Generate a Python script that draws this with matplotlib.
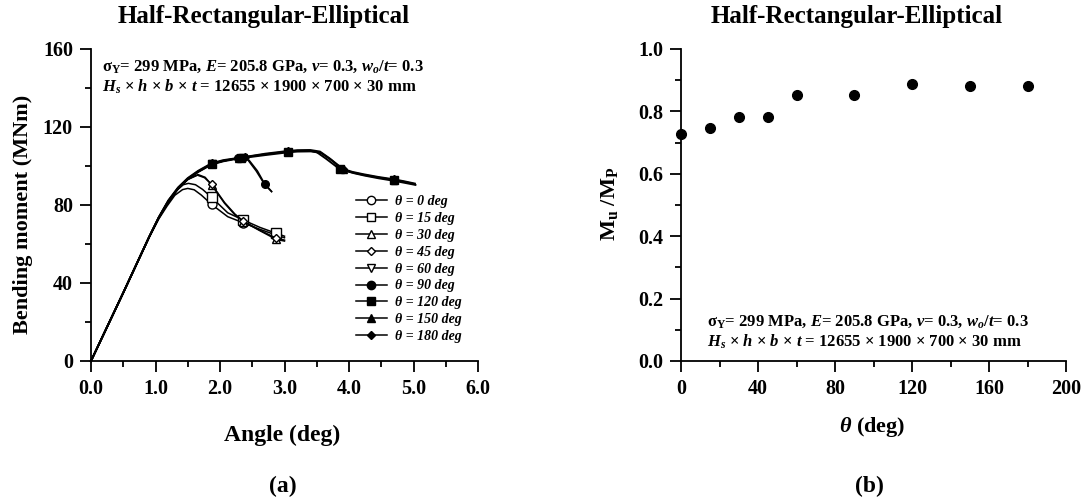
import matplotlib
matplotlib.use("Agg")
import matplotlib.pyplot as plt
from matplotlib.ticker import MultipleLocator
from matplotlib.lines import Line2D

plt.rcParams['font.family'] = ['Liberation Serif', 'DejaVu Serif']
plt.rcParams['font.weight'] = 'bold'
plt.rcParams['mathtext.fontset'] = 'custom'
plt.rcParams['mathtext.rm'] = 'Liberation Serif:bold'
plt.rcParams['mathtext.bf'] = 'Liberation Serif:bold'
plt.rcParams['mathtext.it'] = 'Liberation Serif:italic:bold'
plt.rcParams['mathtext.bfit'] = 'Liberation Serif:italic:bold'

# ---------------- data (a): bending moment vs angle ----------------
x_t0 = [0, 0.5, 0.9, 1.05, 1.18, 1.30, 1.42, 1.50, 1.60, 1.71, 1.87, 2.12, 2.36, 2.62, 2.87, 3.0]
y_t0 = [0, 35, 63.3, 72.8, 79.5, 85.0, 87.9, 88.5, 87.8, 85.1, 80.3, 74, 70.9, 67.5, 64.6, 63.2]
m_t0 = [10, 12, 14]

x_t15 = [0, 0.5, 0.9, 1.05, 1.19, 1.32, 1.43, 1.51, 1.62, 1.73, 1.87, 2.12, 2.36, 2.62, 2.87, 3.0]
y_t15 = [0, 35, 63.4, 73.2, 80.8, 87.2, 90.4, 91.1, 90.4, 88, 83.9, 76, 72.3, 68.5, 65.5, 64]
m_t15 = [10, 12, 14]

x_t30 = [0, 0.5, 0.9, 1.05, 1.2, 1.35, 1.50, 1.66, 1.77, 1.87, 2.07, 2.23, 2.36, 2.62, 2.87, 3.0]
y_t30 = [0, 35, 63.5, 73.4, 81.6, 88.2, 93.0, 95.6, 94.2, 90.3, 80.9, 75, 71.5, 66.8, 62.4, 61.5]
m_t30 = [9, 12, 14]

x_t45 = [0, 0.5, 0.9, 1.05, 1.2, 1.35, 1.50, 1.65, 1.76, 1.87, 2.07, 2.23, 2.36, 2.62, 2.87, 3.0]
y_t45 = [0, 35, 63.5, 73.5, 81.8, 88.4, 93.2, 95.3, 94.0, 90.6, 81.3, 75.4, 71.8, 67, 63, 62]
m_t45 = [9, 12, 14]

x_t60 = [0, 0.5, 0.9, 1.05, 1.2, 1.35, 1.5, 1.66, 1.87, 2.05, 2.23, 2.35, 2.45, 2.58, 2.69, 2.80]
y_t60 = [0, 35, 63.5, 73.5, 82.0, 88.5, 93.3, 97.0, 100.9, 102.5, 103.8, 104.1, 103, 97.5, 91, 87]
m_t60 = [8, 11]

x_t90 = [0, 0.5, 0.9, 1.05, 1.2, 1.35, 1.5, 1.66, 1.87, 2.05, 2.28, 2.43, 2.56, 2.69, 2.80]
y_t90 = [0, 35, 63.5, 73.5, 82.1, 88.6, 93.4, 97.1, 101, 102.6, 104, 103.2, 97.5, 90.6, 86.8]
m_t90 = [8, 10, 13]

x_t120 = [0, 0.5, 0.9, 1.05, 1.2, 1.35, 1.5, 1.66, 1.87, 2.05, 2.33, 2.7, 3.05, 3.2, 3.37, 3.5, 3.65, 3.86, 4.05, 4.22, 4.45, 4.69, 4.85, 5.02]
y_t120 = [0, 35, 63.5, 73.6, 82.2, 88.7, 93.5, 97.2, 101.1, 102.7, 104.3, 106.0, 107.4, 107.8, 107.9, 107.1, 103.6, 98.3, 96.7, 95.5, 94.1, 92.9, 91.9, 90.7]
m_t120 = [8, 10, 12, 17, 21]

x_t150 = [0, 0.5, 0.9, 1.05, 1.2, 1.35, 1.5, 1.66, 1.87, 2.05, 2.28, 2.7, 3.05, 3.2, 3.42, 3.57, 3.72, 3.92, 4.08, 4.24, 4.46, 4.70, 4.86, 5.03]
y_t150 = [0, 35, 63.5, 73.4, 81.9, 88.4, 93.2, 96.9, 100.8, 102.4, 103.8, 105.6, 107.0, 107.4, 107.5, 106.6, 103.2, 97.8, 96.3, 95.1, 93.7, 92.4, 91.4, 90.3]
m_t150 = [8, 10, 12, 17, 21]

x_t180 = [0, 0.5, 0.9, 1.05, 1.2, 1.35, 1.5, 1.66, 1.87, 2.05, 2.38, 2.7, 3.05, 3.2, 3.40, 3.55, 3.70, 3.90, 4.05, 4.22, 4.45, 4.69, 4.85, 5.02]
y_t180 = [0, 35, 63.6, 73.7, 82.4, 89.0, 93.8, 97.5, 101.4, 103.0, 104.6, 106.3, 107.7, 108.1, 108.2, 107.4, 103.9, 98.6, 97.0, 95.8, 94.4, 93.2, 92.2, 91.0]
m_t180 = [8, 10, 12, 17, 21]

labels_a = ["θ = 0 deg", "θ = 15 deg", "θ = 30 deg", "θ = 45 deg", "θ = 60 deg",
            "θ = 90 deg", "θ = 120 deg", "θ = 150 deg", "θ = 180 deg"]

# ---------------- data (b): Mu/Mp vs theta ----------------
theta_b = [0, 15, 30, 45, 60, 90, 120, 150, 180]
mu_mp_b = [0.728, 0.746, 0.781, 0.781, 0.854, 0.854, 0.888, 0.880, 0.880]

W, H = 1089, 501
fig = plt.figure(figsize=(W / 100, H / 100), dpi=100)

def px(x0, y0, x1, y1):
    return [x0 / W, 1 - y1 / H, (x1 - x0) / W, (y1 - y0) / H]

axa = fig.add_axes(px(91, 49, 478, 361))
axb = fig.add_axes(px(681, 49, 1066, 361))

def style(ax):
    for s in ['top', 'right']:
        ax.spines[s].set_visible(False)
    for s in ['left', 'bottom']:
        ax.spines[s].set_linewidth(1.3)
    ax.tick_params(which='major', direction='out', length=8, width=1.3,
                   labelsize=14.5, pad=5)
    ax.tick_params(which='minor', direction='out', length=4.5, width=1.3)
    for lab in ax.get_xticklabels() + ax.get_yticklabels():
        lab.set_fontweight('bold')

series = [
    (x_t0, y_t0, m_t0, 'o', 'white', 1.1),
    (x_t15, y_t15, m_t15, 's', 'white', 1.1),
    (x_t30, y_t30, m_t30, '^', 'white', 1.1),
    (x_t45, y_t45, m_t45, 'D', 'white', 1.1),
    (x_t60, y_t60, m_t60, 'v', 'white', 1.1),
    (x_t90, y_t90, m_t90, 'o', 'black', 1.1),
    (x_t120, y_t120, m_t120, 's', 'black', 1.4),
    (x_t150, y_t150, m_t150, '^', 'black', 1.4),
    (x_t180, y_t180, m_t180, 'D', 'black', 1.4),
]
msizes_open = {'o': 6.5, 's': 7, '^': 6, 'D': 4.5, 'v': 6}
msizes_fill = {'o': 5.5, 's': 5.5, '^': 5, 'D': 4.2}
handles = []
for (xs, ys, me, mk, fc, lw), lab in zip(series, labels_a):
    ms = msizes_open[mk] if fc == 'white' else msizes_fill[mk]
    axa.plot(xs, ys, color='black', lw=lw, marker=mk, markevery=me,
             ms=ms, mfc=fc, mec='black', mew=1.0, clip_on=False)
    hs = 6 if mk in ('o', 's') else (5.5 if mk in ('^', 'v') else 4.5)
    handles.append(Line2D([], [], color='black', lw=1.1, marker=mk,
                          ms=hs, mfc=fc, mec='black', mew=1.0))

axa.set_xlim(0, 6)
axa.set_ylim(0, 160)
axa.xaxis.set_major_locator(MultipleLocator(1))
axa.xaxis.set_minor_locator(MultipleLocator(0.5))
axa.yaxis.set_major_locator(MultipleLocator(40))
axa.yaxis.set_minor_locator(MultipleLocator(20))
axa.set_xticklabels([f"{v:.1f}" for v in axa.get_xticks()])
style(axa)

leg = axa.legend(handles, labels_a, loc='upper left', frameon=False,
                 bbox_to_anchor=(356 / W, 1 - 195 / H), bbox_transform=fig.transFigure,
                 prop={'family': 'Liberation Serif', 'weight': 'bold', 'style': 'italic', 'size': 10},
                 handlelength=2.2, handletextpad=0.6, labelspacing=0.28,
                 borderpad=0, borderaxespad=0)

axb.plot(theta_b, mu_mp_b, 'o', color='black', ms=7, clip_on=False, zorder=5)
axb.set_xlim(0, 200)
axb.set_ylim(0, 1.0)
axb.xaxis.set_major_locator(MultipleLocator(40))
axb.xaxis.set_minor_locator(MultipleLocator(20))
axb.yaxis.set_major_locator(MultipleLocator(0.2))
axb.yaxis.set_minor_locator(MultipleLocator(0.1))
axb.set_yticklabels([f"{v:.1f}" for v in axb.get_yticks()])
style(axb)

# titles, labels
fig.text(264 / W, 1 - 17 / H, "Half-Rectangular-Elliptical", ha='center', va='center',
         fontsize=18, fontweight='bold')
fig.text(857 / W, 1 - 17 / H, "Half-Rectangular-Elliptical", ha='center', va='center',
         fontsize=18, fontweight='bold')
fig.text(282 / W, 1 - 435 / H, "Angle (deg)", ha='center', va='center',
         fontsize=17, fontweight='bold')
fig.text(23 / W, 1 - 214 / H, "Bending moment (MNm)", ha='center', va='center',
         rotation=90, fontsize=16, fontweight='bold')
fig.text(872 / W, 1 - 427 / H, r"$\mathbfit{\theta}$ (deg)", ha='center', va='center',
         fontsize=16, fontweight='bold')
fig.text(609 / W, 1 - 204 / H, r"$\mathbf{M_u}$ /$\mathbf{M_P}$", ha='center', va='center',
         rotation=90, fontsize=16, fontweight='bold')
fig.text(283 / W, 1 - 486 / H, "(a)", ha='center', va='center', fontsize=17, fontweight='bold')
fig.text(869 / W, 1 - 486 / H, "(b)", ha='center', va='center', fontsize=17, fontweight='bold')

line1 = r"$\mathbf{\sigma_Y}$= 299 MPa, $\mathbfit{E}$= 205.8 GPa, $\mathbfit{v}$= 0.3, $\mathbfit{w_o}$/$\mathbfit{t}$= 0.3"
line2 = r"$\mathbfit{H_s}$ × $\mathbfit{h}$ × $\mathbfit{b}$ × $\mathbfit{t}$ = 12655 × 1900 × 700 × 30 mm"
for x0, y1, y2 in [(102, 67, 87), (707, 322, 342)]:
    fig.text(x0 / W, 1 - y1 / H, line1, ha='left', va='center', fontsize=12, fontweight='bold')
    fig.text(x0 / W, 1 - y2 / H, line2, ha='left', va='center', fontsize=12, fontweight='bold')

fig.savefig("out.png", dpi=100)
